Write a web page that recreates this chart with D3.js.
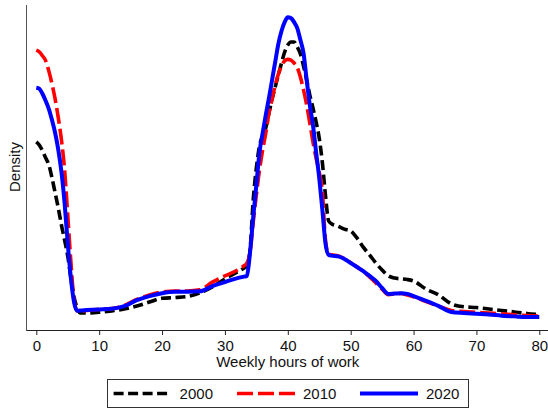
<!DOCTYPE html>
<html>
<head>
<meta charset="utf-8">
<script src="https://cdn.jsdelivr.net/npm/d3@7/dist/d3.min.js"></script>
<style>
  body { margin: 0; background: #fff; }
  svg { display: block; font-family: "Liberation Sans", Arial, Helvetica, sans-serif; }
</style>
</head>
<body>
<div id="chart"></div>
<script>
// weekly hours grid (kernel density evaluated at these points)
var hours = [0, 0.5, 1, 1.5, 2, 2.5, 3, 3.5, 4, 4.5, 5, 5.5, 6, 6.5, 7, 8, 10, 12, 14, 16,
  18, 20, 22, 24, 26, 28, 30, 32, 33, 33.5, 34, 34.5, 35, 35.5, 36, 36.5, 37, 37.5, 38, 38.5,
  39, 39.5, 40, 40.5, 41, 41.5, 42, 42.5, 43, 43.5, 44, 44.5, 45, 45.5, 46, 46.5, 47, 48, 49, 50,
  51, 52, 53, 54, 55, 56, 57, 58, 59, 60, 62, 64, 66, 68, 70, 72, 74, 76, 78, 80];

var dens2000 = [0.0511, 0.0502, 0.0486, 0.0467, 0.0448, 0.0413, 0.0372, 0.0331, 0.0285, 0.0244,
  0.0201, 0.0141, 0.0090, 0.0060, 0.0046, 0.0046, 0.0048, 0.0052, 0.0057, 0.0065,
  0.0076, 0.0086, 0.0088, 0.0091, 0.0101, 0.0117, 0.0139, 0.0158, 0.0168, 0.0174,
  0.0217, 0.0353, 0.0440, 0.0500, 0.0527, 0.0549, 0.0589, 0.0627, 0.0660, 0.0693,
  0.0725, 0.0755, 0.0774, 0.0782, 0.0782, 0.0769, 0.0750, 0.0717, 0.0679, 0.0638,
  0.0603, 0.0565, 0.0521, 0.0454, 0.0364, 0.0296, 0.0288, 0.0282, 0.0274, 0.0269,
  0.0250, 0.0225, 0.0204, 0.0182, 0.0163, 0.0147, 0.0141, 0.0139, 0.0137, 0.0133,
  0.0111, 0.0095, 0.0071, 0.0063, 0.0061, 0.0057, 0.0053, 0.0049, 0.0045, 0.0042];

var dens2010 = [0.0760, 0.0755, 0.0744, 0.0731, 0.0703, 0.0668, 0.0627, 0.0576, 0.0516, 0.0435,
  0.0312, 0.0185, 0.0082, 0.0052, 0.0052, 0.0053, 0.0056, 0.0058, 0.0067, 0.0083,
  0.0095, 0.0103, 0.0106, 0.0106, 0.0109, 0.0130, 0.0147, 0.0163, 0.0174, 0.0182,
  0.0212, 0.0293, 0.0367, 0.0435, 0.0489, 0.0535, 0.0589, 0.0627, 0.0665, 0.0695,
  0.0717, 0.0731, 0.0735, 0.0733, 0.0725, 0.0713, 0.0687, 0.0652, 0.0611, 0.0562,
  0.0511, 0.0467, 0.0429, 0.0375, 0.0242, 0.0206, 0.0204, 0.0201, 0.0194, 0.0183,
  0.0171, 0.0159, 0.0144, 0.0128, 0.0111, 0.0096, 0.0098, 0.0099, 0.0095, 0.0090,
  0.0077, 0.0065, 0.0053, 0.0050, 0.0048, 0.0046, 0.0044, 0.0041, 0.0039, 0.0038];

var dens2020 = [0.0658, 0.0655, 0.0641, 0.0622, 0.0600, 0.0570, 0.0535, 0.0489, 0.0429, 0.0345,
  0.0236, 0.0141, 0.0076, 0.0052, 0.0053, 0.0054, 0.0056, 0.0058, 0.0065, 0.0081,
  0.0092, 0.0100, 0.0104, 0.0104, 0.0105, 0.0119, 0.0130, 0.0141, 0.0145, 0.0147,
  0.0212, 0.0307, 0.0394, 0.0483, 0.0535, 0.0584, 0.0630, 0.0679, 0.0728, 0.0777,
  0.0812, 0.0836, 0.0849, 0.0847, 0.0836, 0.0820, 0.0788, 0.0752, 0.0679, 0.0611,
  0.0557, 0.0483, 0.0413, 0.0326, 0.0234, 0.0204, 0.0202, 0.0200, 0.0193, 0.0182,
  0.0171, 0.0160, 0.0147, 0.0133, 0.0114, 0.0098, 0.0099, 0.0100, 0.0098, 0.0092,
  0.0079, 0.0065, 0.0049, 0.0046, 0.0044, 0.0042, 0.0039, 0.0037, 0.0035, 0.0035];

var years = ['2000', '2010', '2020'];
var xTicks = [0, 10, 20, 30, 40, 50, 60, 70, 80];

var width = 548, height = 411;

var series = [
  {name: years[0], values: dens2000, color: '#000000', dash: '10,4.5'},
  {name: years[1], values: dens2010, color: '#ff0000', dash: '16,5'},
  {name: years[2], values: dens2020, color: '#0000ff', dash: null}
];

var x = d3.scaleLinear().domain([0, 80]).range([36.3, 539.3]);
var y = d3.scaleLinear().domain([0, 0.085]).range([330, 17]);

var svg = d3.select('#chart').append('svg')
    .attr('width', width)
    .attr('height', height);

// x axis
var xAxis = svg.append('g')
    .attr('transform', 'translate(0,330)')
    .call(d3.axisBottom(x).tickValues(xTicks).tickSize(5).tickPadding(5).tickSizeOuter(0));
xAxis.select('.domain').remove();
xAxis.selectAll('.tick line').attr('stroke', '#222');
xAxis.selectAll('.tick text').attr('font-size', 15).attr('fill', '#111')
    .attr('font-family', '"Liberation Sans", Arial, sans-serif');
svg.append('line')
    .attr('x1', 27).attr('x2', width)
    .attr('y1', 330.5).attr('y2', 330.5)
    .attr('stroke', '#222').attr('stroke-width', 1);

// y axis (no tick labels)
svg.append('line')
    .attr('x1', 26.5).attr('x2', 26.5)
    .attr('y1', 5).attr('y2', 331)
    .attr('stroke', '#555').attr('stroke-width', 1);

svg.append('text')
    .attr('x', x(40)).attr('y', 367)
    .attr('text-anchor', 'middle')
    .attr('font-size', 15).attr('fill', '#111')
    .text('Weekly hours of work');

svg.append('text')
    .attr('transform', 'translate(20,167) rotate(-90)')
    .attr('text-anchor', 'middle')
    .attr('font-size', 15).attr('fill', '#111')
    .text('Density');

// density curves
var line = d3.line()
    .x(function(d, i) { return x(hours[i]); })
    .y(function(d) { return y(d); })
    .curve(d3.curveMonotoneX);

svg.selectAll('.curve')
    .data(series)
    .enter()
    .append('path')
    .attr('class', 'curve')
    .attr('d', function(s) { return line(s.values); })
    .attr('fill', 'none')
    .attr('stroke', function(s) { return s.color; })
    .attr('stroke-width', function(s) { return s.dash ? 3.6 : 4; })
    .attr('stroke-dasharray', function(s) { return s.dash; })
    .attr('stroke-linejoin', 'round');

// legend
var legend = svg.append('g');
legend.append('rect')
    .attr('x', 107.5).attr('y', 379.5)
    .attr('width', 361).attr('height', 28)
    .attr('fill', '#fff').attr('stroke', '#333').attr('stroke-width', 1);

var legendX = [113.6, 237, 360];
var item = legend.selectAll('.item')
    .data(series)
    .enter()
    .append('g')
    .attr('class', 'item')
    .attr('transform', function(d, i) { return 'translate(' + legendX[i] + ',393.5)'; });

item.append('line')
    .attr('x1', 0).attr('x2', 58)
    .attr('stroke', function(s) { return s.color; })
    .attr('stroke-width', function(s) { return s.dash ? 3.6 : 4; })
    .attr('stroke-dasharray', function(s) { return s.dash; });

item.append('text')
    .attr('x', 66).attr('y', 5.5)
    .attr('font-size', 15).attr('fill', '#111')
    .text(function(s) { return s.name; });
</script>
</body>
</html>
